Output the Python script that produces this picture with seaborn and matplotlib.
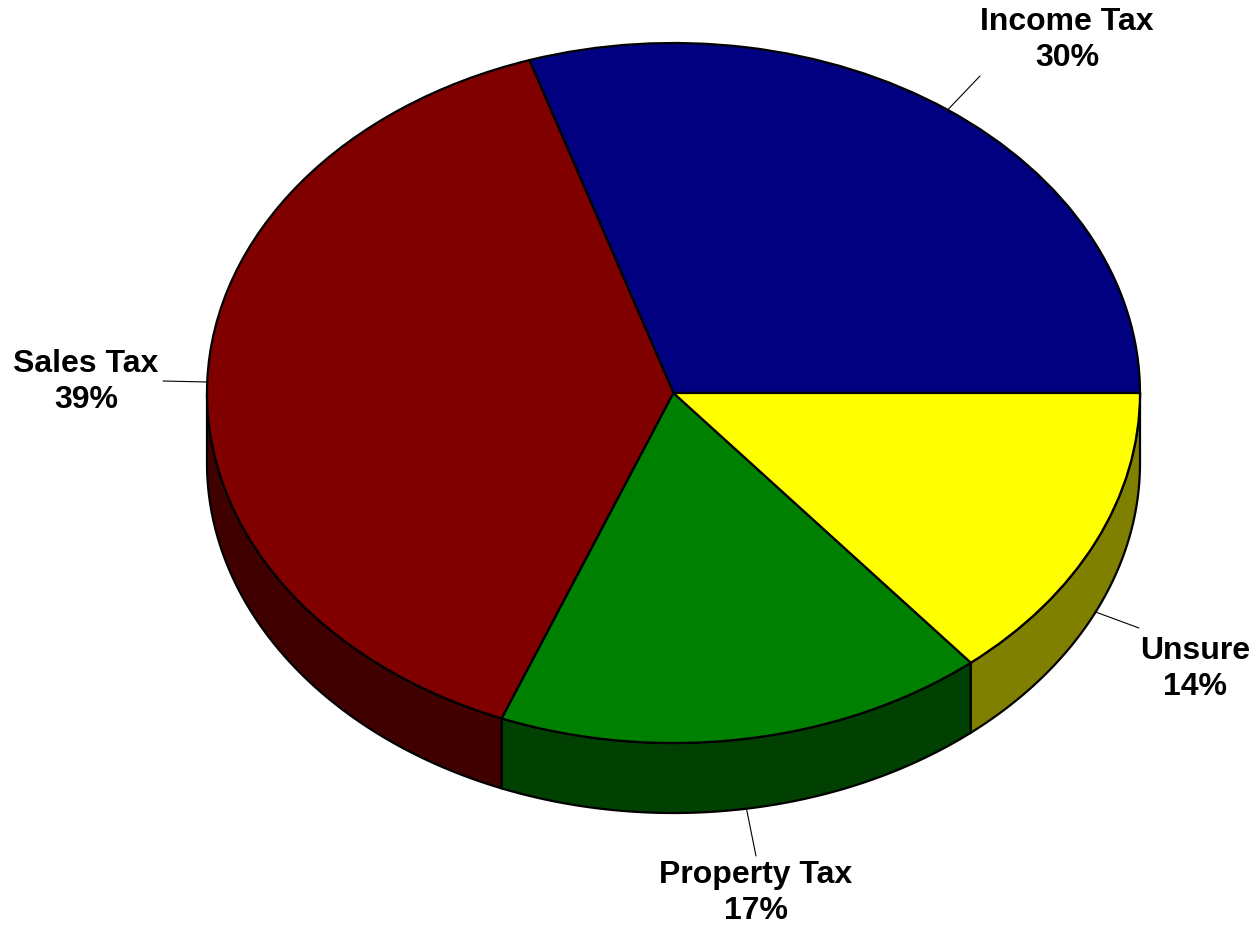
import numpy as np
import matplotlib
matplotlib.use("Agg")
import matplotlib.pyplot as plt
import seaborn as sns
from matplotlib.patches import Polygon

# ---- data ----
categories = ["Income Tax", "Sales Tax", "Property Tax", "Unsure"]
shares = [30, 39, 17, 14]
top_colors = ["#000080", "#800000", "#008000", "#FFFF00"]
side_colors = ["#000040", "#400000", "#004000", "#808000"]

# ---- layout (pixels in the 1254x926 image) ----
W, H = 1254, 926
CX, CY = 673.5, 393.0      # pie centre
RX, RY = 466.5, 350.0      # ellipse radii
DEPTH_PX = 70.0            # thickness of the pie
# label centre and leader-line end, in pixels
label_pos = [(1067, 40), (86, 382), (756, 893), (1195, 669)]
leader_end = [(980, 76), (163, 381), (756, 856), (1139, 628)]

sns.set_theme(style="white")
plt.rcParams['font.family'] = ['Liberation Sans', 'DejaVu Sans']


def px(x, y):
    return (x - CX) / RX, (CY - y) / RY


depth = DEPTH_PX / RY

fig = plt.figure(figsize=(W / 100, H / 100), dpi=100)
ax = fig.add_axes([0, 0, 1, 1])

# top surface via the library's pie
wedges, _ = ax.pie(shares, colors=top_colors, startangle=0, counterclock=True,
                   radius=1, center=(0, 0),
                   wedgeprops=dict(edgecolor="black", linewidth=1.6, zorder=3))

# side walls for the front (lower) half
total = float(sum(shares))
bounds = np.concatenate([[0], np.cumsum(shares) / total * 360.0])
for i in range(len(shares)):
    a0, a1 = bounds[i], bounds[i + 1]
    lo, hi = max(a0, 180.0), min(a1, 360.0)
    if hi <= lo:
        continue
    t = np.radians(np.linspace(lo, hi, 200))
    top = np.column_stack([np.cos(t), np.sin(t)])
    bot = np.column_stack([np.cos(t), np.sin(t) - depth])[::-1]
    poly = Polygon(np.vstack([top, bot]), closed=True, facecolor=side_colors[i],
                   edgecolor="black", linewidth=1.6, zorder=2)
    ax.add_patch(poly)

# labels and leader lines
for i, name in enumerate(categories):
    mid = np.radians((bounds[i] + bounds[i + 1]) / 2)
    sx, sy = np.cos(mid), np.sin(mid)
    if sy < 0:
        sy -= depth
    ex, ey = px(*leader_end[i])
    ax.plot([sx, ex], [sy, ey], color="black", linewidth=0.8, zorder=1)
    lx, ly = px(*label_pos[i])
    ax.text(lx, ly, f"{name}\n{shares[i]}%", ha="center", va="center",
            fontsize=23, fontweight="bold", multialignment="center",
            linespacing=1.27, color="black")

ax.set_aspect("auto")
ax.set_xlim(px(0, 0)[0], px(W, 0)[0])
ax.set_ylim(px(0, H)[1], px(0, 0)[1])
ax.axis("off")

fig.savefig("out.png", dpi=100, facecolor="white")
